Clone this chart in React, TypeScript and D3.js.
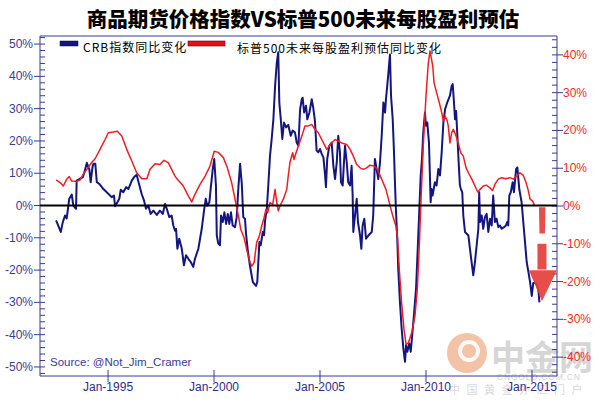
import React from "react";
import * as d3 from "d3";

// CRB index YoY change (%), left axis
const crbYears = [1992.55,1992.77,1992.86,1992.97,1993.05,1993.17,1993.29,1993.36,1993.49,1993.52,1993.65,1993.81,1993.88,1994.0,1994.12,1994.18,1994.26,1994.31,1994.4,1994.47,1994.59,1994.78,1994.94,1995.17,1995.28,1995.33,1995.44,1995.53,1995.6,1995.72,1995.85,1995.96,1996.12,1996.23,1996.35,1996.48,1996.59,1996.7,1996.79,1996.9,1997.01,1997.14,1997.3,1997.45,1997.58,1997.69,1997.77,1997.89,1998.0,1998.08,1998.16,1998.21,1998.27,1998.36,1998.48,1998.58,1998.68,1998.79,1998.9,1999.02,1999.1,1999.26,1999.42,1999.54,1999.61,1999.68,1999.78,1999.84,1999.94,2000.01,2000.09,2000.13,2000.2,2000.28,2000.33,2000.41,2000.49,2000.57,2000.65,2000.72,2000.8,2000.88,2000.99,2001.07,2001.15,2001.23,2001.31,2001.38,2001.46,2001.51,2001.59,2001.7,2001.83,2001.98,2002.04,2002.09,2002.14,2002.2,2002.3,2002.36,2002.41,2002.49,2002.56,2002.64,2002.72,2002.8,2002.88,2002.96,2003.03,2003.08,2003.15,2003.22,2003.3,2003.4,2003.5,2003.62,2003.71,2003.82,2003.9,2003.98,2004.06,2004.14,2004.18,2004.25,2004.34,2004.4,2004.5,2004.61,2004.68,2004.76,2004.84,2004.92,2005.0,2005.08,2005.16,2005.24,2005.28,2005.34,2005.44,2005.55,2005.63,2005.71,2005.79,2005.86,2005.94,2005.99,2006.07,2006.13,2006.18,2006.26,2006.33,2006.42,2006.49,2006.54,2006.57,2006.65,2006.73,2006.79,2006.89,2006.95,2007.01,2007.09,2007.17,2007.28,2007.44,2007.51,2007.59,2007.67,2007.75,2007.83,2007.91,2007.99,2008.07,2008.11,2008.17,2008.24,2008.3,2008.35,2008.43,2008.49,2008.54,2008.58,2008.65,2008.69,2008.77,2008.85,2008.93,2009.01,2009.06,2009.12,2009.21,2009.28,2009.35,2009.43,2009.53,2009.61,2009.68,2009.75,2009.81,2009.87,2009.95,2010.0,2010.06,2010.14,2010.22,2010.26,2010.31,2010.42,2010.5,2010.58,2010.66,2010.74,2010.82,2010.9,2011.0,2011.13,2011.21,2011.26,2011.32,2011.37,2011.42,2011.48,2011.54,2011.6,2011.65,2011.71,2011.76,2011.84,2012.0,2012.11,2012.23,2012.31,2012.39,2012.47,2012.51,2012.55,2012.63,2012.7,2012.78,2012.86,2012.94,2013.02,2013.1,2013.17,2013.25,2013.33,2013.41,2013.49,2013.57,2013.68,2013.77,2013.83,2013.88,2013.93,2014.0,2014.09,2014.15,2014.25,2014.31,2014.4,2014.51,2014.59,2014.67,2014.75,2014.83,2014.91,2014.99,2015.06,2015.19,2015.3,2015.35];
const crbValues = [-4.6,-8.2,-5.3,-3.1,-4,2.1,3.4,0,-1,7.7,8.2,8.8,10.2,13.2,11.1,7.2,11.6,12.9,12.9,7.2,6.7,5.1,4.1,2.6,3.1,-0.2,1,2.1,4.9,4.1,5.7,5.1,7.7,8.8,9.5,6.2,3.5,1.5,-1,0,-2.6,-1.6,-2.9,-1.6,-2.6,0.5,-1,-3.6,-3.1,-6.2,-7.8,-7.2,-13.4,-10.3,-13.4,-18.5,-15.4,-16.5,-17.5,-19,-16.5,-13.4,-7.2,-1,2.1,-0.1,1,5.1,11.3,14.4,6.2,-9.3,-11.8,-12.3,-3.1,-5.1,-2.1,-5.7,-2.6,-5.7,-2.1,-6.2,-6.7,-3.6,5.7,12.9,6.7,-3.6,-4.1,-8.7,-13.8,-18.9,-23.7,-24.9,-23.7,-17.5,-11.3,-12.3,-8.2,-9.2,-4.6,-1,6.2,15.4,20.6,26.7,37,44.2,47.5,31.9,26.7,20.6,25.7,24.2,25,21.6,23.2,22.6,19.5,18.5,29.8,32.9,33.4,28.8,30.9,26.7,28.8,32.9,30.3,26.2,17,16.5,17.5,16,14.9,9.3,5.7,14.4,18.5,19.5,12.3,8.2,13.4,21.6,16.5,7.2,6.2,13.4,18.5,13.4,7.2,6.2,12.3,3.1,-8.2,-3.1,2.1,-5.1,-9.3,-13.4,-6.2,-4.1,-10.3,-9.3,-8.2,-3.1,14.4,11.3,8.2,13.4,21.6,31.9,28.8,32.9,37,42.2,46.8,34,26.7,16.5,6.2,-1,-11.3,-19.5,-29.8,-38,-44.2,-48.4,-43.2,-45.3,-42.7,-45.3,-40.1,-34,-25.7,-13.4,-2.1,9.3,14.4,22.6,28.8,24.7,25.7,19.5,1,5.1,3.1,7.2,6.2,11.3,9.3,16.5,25.7,29.8,31.9,34,37,37.6,31.9,26.7,29.3,21.6,13.4,6.2,5.1,4.1,-3.1,-8.2,-9.3,-15.4,-21.6,-17.5,-12.3,-7.2,4.1,-5.1,-3.1,-7.2,-3.6,-2.6,-8.2,-4.1,-6.2,3.1,-5.1,-4.1,-6.7,-6.2,-7.2,-6.7,-6.2,-5.1,-6.2,3.1,4.1,7.2,4.1,11.3,11.8,5.1,1,-5.1,-11.3,-17.5,-20.5,-23.7,-28,-24,-24,-26,-30];

// S&P 500 forward EPS YoY change (%), right axis
const epsYears = [1992.55,1992.74,1992.89,1993.05,1993.17,1993.29,1993.52,1993.68,1993.83,1994.0,1994.23,1994.39,1994.62,1994.86,1995.01,1995.25,1995.44,1995.65,1995.88,1996.12,1996.35,1996.59,1996.83,1996.98,1997.22,1997.45,1997.64,1997.84,1998.0,1998.16,1998.27,1998.55,1998.79,1998.95,1999.1,1999.34,1999.58,1999.81,2000.01,2000.2,2000.44,2000.63,2000.83,2000.99,2001.15,2001.26,2001.42,2001.54,2001.7,2001.78,2001.89,2002.01,2002.14,2002.25,2002.36,2002.45,2002.53,2002.64,2002.77,2002.88,2002.96,2003.03,2003.11,2003.27,2003.43,2003.5,2003.58,2003.71,2003.77,2003.87,2003.98,2004.14,2004.29,2004.45,2004.61,2004.76,2004.92,2005.08,2005.32,2005.55,2005.71,2005.86,2006.02,2006.26,2006.42,2006.57,2006.73,2006.89,2007.04,2007.2,2007.36,2007.55,2007.7,2007.91,2008.11,2008.27,2008.43,2008.58,2008.65,2008.74,2008.85,2008.96,2009.06,2009.17,2009.33,2009.48,2009.59,2009.69,2009.76,2009.87,2010.0,2010.11,2010.19,2010.32,2010.38,2010.5,2010.63,2010.74,2010.82,2010.9,2010.98,2011.05,2011.13,2011.21,2011.29,2011.42,2011.52,2011.64,2011.76,2011.89,2012.0,2012.16,2012.31,2012.44,2012.55,2012.7,2012.86,2013.02,2013.14,2013.25,2013.41,2013.57,2013.77,2013.96,2014.12,2014.28,2014.43,2014.59,2014.72,2014.83,2014.91,2015.03,2015.14];
const epsValues = [6.9,6.2,5.3,7.1,7.8,6.6,6.5,6.9,8.4,9.7,11.5,12.5,15,17.6,19.4,19.6,19.8,18.5,15,11.9,8.8,7.2,7.2,9.7,11.2,11,12.1,11.5,9.7,7.9,7.1,5.3,2.6,1.1,3.1,5.7,7.9,10.6,14.5,14.2,12.8,10.1,6.2,1.8,-2.6,-6.2,-8.4,-11.5,-15,-15.9,-15,-9.7,-7.9,-5.3,-3.1,-0.9,-1.8,0.9,0.4,4.4,0.9,-1.3,0,1.8,4.4,7.9,11.5,14.1,12.3,14.1,15.9,18.5,21.2,21.2,21.6,20.3,19.4,17.6,15,16.7,17.6,17.2,16.7,16.3,15,13.2,11,10.1,9.7,10.1,10.8,10.6,9.7,7.1,4.4,0.9,-2.6,-5.3,-7.9,-16.8,-25.6,-32.6,-36.6,-36.2,-33.5,-29.1,-22,-9.7,0.9,15.9,29.1,37.9,41,37,32.6,30,27.3,24.7,22.5,23.8,22.9,21.2,16.7,19.4,20.3,18.5,16.7,14.1,13.2,10.1,8.8,7.1,5.3,3.7,4.4,5.3,5.5,4.8,4.1,5.7,7.1,7.5,7.2,7.5,7.1,7.9,8.8,8.1,6.2,4,1.8,1.3,0];

const leftTicks = [-50, -40, -30, -20, -10, 0, 10, 20, 30, 40, 50];
const rightTicks = [-40, -30, -20, -10, 0, 10, 20, 30, 40];
const xTickYears = [1995, 2000, 2005, 2010, 2015];

const title = "商品期货价格指数VS标普500未来每股盈利预估";
const crbLabel = "CRB指数同比变化";
const epsLabel = "标普500未来每股盈利预估同比变化";
const sourceText = "Source: @Not_Jim_Cramer";

const W = 600;
const H = 404;
const L = 40, R = 557, T = 36, B = 376;

const NAVY = "#15157f";
const AXIS = "#3a3a92";
const RED = "#ee1d23";
const LATIN = "'Liberation Sans', Arial, sans-serif";
const CJK = "'Noto Sans CJK SC', sans-serif";

export default function App() {
  const x = d3.scaleLinear().domain([1991.79, 2016.18]).range([L, R]);
  const yL = d3.scaleLinear().domain([-52.8, 52.5]).range([B, T]);
  const yR = d3.scaleLinear().domain([-45, 45]).range([B, T]);

  const crbLine = d3.line<number>().x((_, i) => x(crbYears[i])).y((d) => yL(d));
  const epsLine = d3.line<number>().x((_, i) => x(epsYears[i])).y((d) => yR(d));

  const leftMinor = d3.range(-52, 53, 2).filter((v) => v % 10 !== 0);
  const rightMinor = d3.range(-44, 45, 2).filter((v) => v % 10 !== 0);

  // annotation arrow (dashed, pointing down) placed through scales
  const ax = x(2015.47);
  const a0 = yR(-0.3);
  const a1 = yR(-7.3);
  const a2 = yR(-10.0);
  const a3 = yR(-16.8);
  const aHead = yR(-17.0);
  const aTip = yR(-25.2);

  return (
    <svg width={W} height={H} style={{ position: "absolute", left: 0, top: 0, background: "#fff" }}>
      <rect x={0} y={0} width={W} height={H} fill="#fff" />
      {/* title */}
      <text x={303} y={27} textAnchor="middle" fontFamily={CJK} fontWeight={900} fontSize={20.5} fill="#000">
        {title}
      </text>

      {/* watermark */}
      <g opacity={0.75}>
        <circle cx={467} cy={353} r={20} fill="#eeb08a" />
        <circle cx={469} cy={351} r={9} fill="none" stroke="#fff" strokeWidth={4} opacity={0.9} />
        <text x={491} y={370} fontFamily={CJK} fontWeight={700} fontSize={34} fill="#c9c9c9">中金网</text>
        <text x={497} y={380} fontFamily={LATIN} fontSize={8.5} fill="#c4c4c4" letterSpacing={0.8}>CNGOLD.COM.CN</text>
        <text x={449} y={394} fontFamily={CJK} fontSize={11} fill="#cccccc" letterSpacing={6.5}>中国黄金外汇门户</text>
      </g>

      {/* frame */}
      <line x1={L} x2={R} y1={T} y2={T} stroke={AXIS} strokeWidth={1} />
      <line x1={L} x2={L} y1={T} y2={B} stroke={AXIS} strokeWidth={1} />
      <line x1={R} x2={R} y1={T} y2={B} stroke={AXIS} strokeWidth={1} />
      <line x1={L} x2={R} y1={B} y2={B} stroke={AXIS} strokeWidth={1} />

      {/* left axis ticks */}
      {leftMinor.map((v) => (
        <line key={"lm" + v} x1={L} x2={L + 5} y1={yL(v)} y2={yL(v)} stroke={AXIS} strokeWidth={1} />
      ))}
      {leftTicks.map((v) => (
        <g key={"l" + v}>
          <line x1={L - 6} x2={L + 5} y1={yL(v)} y2={yL(v)} stroke={AXIS} strokeWidth={1} />
          <text x={L - 7} y={yL(v) + 4} textAnchor="end" fontFamily={LATIN} fontSize={12} fill="#3c3c8e">
            {v + "%"}
          </text>
        </g>
      ))}

      {/* right axis ticks */}
      {rightMinor.map((v) => (
        <line key={"rm" + v} x1={R - 5} x2={R} y1={yR(v)} y2={yR(v)} stroke={AXIS} strokeWidth={1} />
      ))}
      {rightTicks.map((v) => (
        <g key={"r" + v}>
          <line x1={R - 5} x2={R + 6} y1={yR(v)} y2={yR(v)} stroke={AXIS} strokeWidth={1} />
          <text x={R + 6} y={yR(v) + 4} textAnchor="start" fontFamily={LATIN} fontSize={12} fill="#ee2a2a">
            {v + "%"}
          </text>
        </g>
      ))}

      {/* x axis ticks */}
      {xTickYears.map((yr) => (
        <g key={"x" + yr}>
          <line x1={x(yr)} x2={x(yr)} y1={B - 6} y2={B + 6} stroke={AXIS} strokeWidth={1} />
          <text x={x(yr)} y={B + 15} textAnchor="middle" fontFamily={LATIN} fontSize={12} fill="#2d2d86">
            {"Jan-" + yr}
          </text>
        </g>
      ))}

      {/* series */}
      <path d={crbLine(crbValues) || ""} fill="none" stroke={NAVY} strokeWidth={2} strokeLinejoin="round" />
      <path d={epsLine(epsValues) || ""} fill="none" stroke={RED} strokeWidth={1.5} strokeLinejoin="round" />

      {/* zero line */}
      <line x1={L} x2={R} y1={yL(0)} y2={yL(0)} stroke="#000" strokeWidth={2} />

      {/* legend */}
      <rect x={60} y={41} width={18} height={5} fill={NAVY} stroke="#0a0a50" strokeWidth={0.5} />
      <text x={83} y={52} fontFamily={CJK} fontSize={12} fill="#000" letterSpacing={1}>{crbLabel}</text>
      <rect x={188} y={41} width={37} height={5} fill="#e0101e" stroke="#700" strokeWidth={0.6} />
      <text x={237} y={53} fontFamily={CJK} fontSize={12} fill="#000" letterSpacing={1}>{epsLabel}</text>

      {/* source */}
      <text x={50} y={366} fontFamily={LATIN} fontSize={11.5} fill="#3a3a9a">{sourceText}</text>

      {/* arrow annotation */}
      <g fill="#e5403a" opacity={0.92}>
        <polygon points={`${ax - 3},${a0} ${ax + 3.5},${a0} ${ax + 3},${a1} ${ax - 2.5},${a1}`} />
        <polygon points={`${ax - 4.5},${a2} ${ax + 4.5},${a2} ${ax + 4.5},${a3} ${ax - 4.5},${a3}`} />
        <polygon points={`${ax - 13},${aHead} ${ax + 15},${aHead} ${ax},${aTip}`} />
      </g>
    </svg>
  );
}
